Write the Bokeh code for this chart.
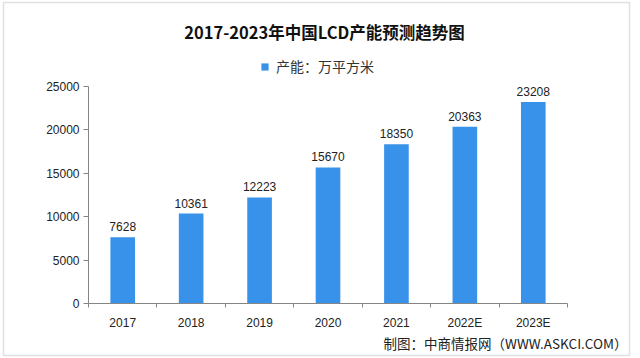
from bokeh.plotting import figure
from bokeh.models import (ColumnDataSource, LabelSet, Label, FixedTicker, Range1d,
                          Legend, LegendItem, BoxAnnotation)
from bokeh.core.properties import value
from bokeh.embed import file_html
from bokeh.resources import INLINE
import numpy as np

years = ["2017", "2018", "2019", "2020", "2021", "2022E", "2023E"]
capacity = [7628, 10361, 12223, 15670, 18350, 20363, 23208]
y_ticks = [0, 5000, 10000, 15000, 20000, 25000]
y_max = 25000

title_text = "2017-2023年中国LCD产能预测趋势图"
legend_text = "产能：万平方米"
source_text = "制图：中商情报网（WWW.ASKCI.COM）"

BAR_COLOR = "#3892ea"
AXIS_COLOR = "#858585"

n = len(years)
xc = np.arange(n) + 0.5
src = ColumnDataSource(dict(x=xc, y=capacity, label=[str(v) for v in capacity]))

# canvas size and where the value axes should sit (canvas pixels)
W, H = 640, 358
AX_LEFT, AX_RIGHT, AX_TOP, AX_BOTTOM = 88, 567, 86, 303
px_per_cat = (AX_RIGHT - AX_LEFT) / n
val_per_px = y_max / (AX_BOTTOM - AX_TOP)

def dx(px):
    return (px - AX_LEFT) / px_per_cat

def dy(py):
    return (AX_BOTTOM - py) * val_per_px

p = figure(width=W, height=H, output_backend="svg", toolbar_location=None,
           x_range=Range1d(dx(0), dx(W)), y_range=Range1d(dy(H), dy(0)),
           min_border=0)
p.outline_line_color = None
p.xgrid.grid_line_color = None
p.ygrid.grid_line_color = None
p.background_fill_color = "white"
p.border_fill_color = "white"

bars = p.vbar(x="x", top="y", width=0.36, bottom=0, source=src, color=BAR_COLOR, line_color=None)

labels = LabelSet(x="x", y="y", text="label", source=src, text_align="center",
                  text_baseline="bottom", y_offset=6, text_font_size=value("12px"),
                  text_font=value("Liberation Sans"), text_color=value("#222222"))
p.add_layout(labels)

# axes drawn inside the frame
xax = p.xaxis[0]
xax.fixed_location = 0
xax.bounds = (0, n)
xax.ticker = FixedTicker(ticks=list(xc), minor_ticks=list(np.arange(n + 1)))
xax.major_label_overrides = {float(x): y for x, y in zip(xc, years)}
xax.major_tick_line_color = None
xax.minor_tick_line_color = AXIS_COLOR
xax.minor_tick_out = 4
xax.minor_tick_in = 0
xax.axis_line_color = AXIS_COLOR
xax.major_label_text_font = "Liberation Sans"
xax.major_label_text_font_size = "12px"
xax.major_label_text_color = "#222222"
xax.major_label_standoff = 6

yax = p.yaxis[0]
yax.fixed_location = 0
yax.bounds = (0, y_max)
yax.ticker = FixedTicker(ticks=y_ticks)
yax.minor_tick_line_color = None
yax.major_tick_line_color = AXIS_COLOR
yax.major_tick_out = 5
yax.major_tick_in = 0
yax.axis_line_color = AXIS_COLOR
yax.major_label_text_font = "Liberation Sans"
yax.major_label_text_font_size = "12px"
yax.major_label_text_color = "#222222"
yax.major_label_standoff = 4

# outer frame of the picture
p.add_layout(BoxAnnotation(left=dx(3), right=dx(629), top=dy(2), bottom=dy(355),
                           fill_alpha=0, line_color="#9a9a9a", line_width=1.5))

# title
p.add_layout(Label(x=dx(324), y=dy(31), text=title_text,
                   text_align="center", text_baseline="middle", text_font="Noto Sans CJK SC",
                   text_font_style="bold", text_font_size="16.5px", text_color="#111111"))

# legend
legend = Legend(items=[LegendItem(label=legend_text, renderers=[bars])],
                orientation="horizontal", location=(260, H - 76),
                glyph_width=9, glyph_height=9, label_standoff=7, padding=0, margin=0,
                spacing=0, border_line_color=None, background_fill_alpha=0,
                label_text_font="Noto Sans CJK SC", label_text_font_size="14px",
                label_text_color="#333333", label_height=16)
p.add_layout(legend)

# source note
p.add_layout(Label(x=dx(627), y=dy(342), text=source_text,
                   text_align="right", text_baseline="middle", text_font="Noto Sans CJK SC",
                   text_font_size="13.5px", text_color="#222222"))

open("out.html", "w").write(file_html(p, INLINE))
